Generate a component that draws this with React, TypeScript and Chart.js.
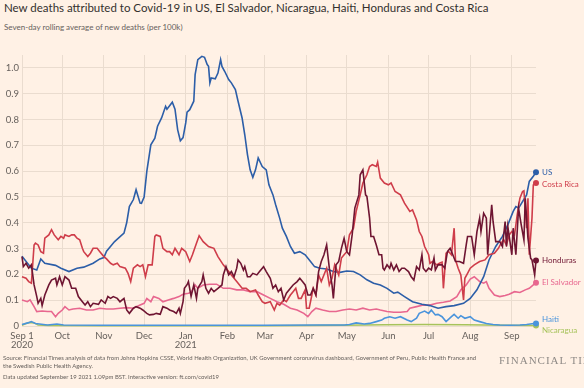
import React, { useEffect, useRef } from "react";
import { Chart, registerables } from "chart.js";

Chart.register(...registerables);

// ---- Axis ticks (days since 1 Sep 2020) ----
const monthTickDays = [0, 30, 61, 91, 122, 153, 181, 212, 242, 273, 303, 334, 365];
const monthTickLabels: (string | string[])[] = [
  ["Sep 1", "2020"], "Oct", "Nov", "Dec", ["Jan", "2021"], "Feb", "Mar", "Apr", "May", "Jun", "Jul", "Aug", "Sep",
];
const yTickValues = [0, 0.1, 0.2, 0.3, 0.4, 0.5, 0.6, 0.7, 0.8, 0.9, 1.0];
const yTickLabels = ["0", "0.1", "0.2", "0.3", "0.4", "0.5", "0.6", "0.7", "0.8", "0.9", "1.0"];
const lastDay = 383;

// ---- Series (day index, deaths per 100k, 7-day avg) ----
const usDays = [0, 7, 11, 14, 17, 25, 29, 35, 41, 46, 53, 58, 61, 63, 69, 76, 78, 80, 83, 85, 88, 89, 91, 93, 96, 99, 101, 104, 107, 108, 112, 114, 116, 118, 120, 122, 123, 125, 128, 129, 131, 134, 136, 138, 139, 140, 141, 144, 146, 148, 149, 151, 154, 156, 159, 161, 164, 166, 168, 170, 172, 174, 176, 179, 182, 184, 187, 189, 192, 194, 197, 200, 203, 207, 211, 215, 218, 222, 227, 232, 237, 242, 247, 252, 257, 262, 267, 272, 277, 280, 285, 291, 298, 304, 310, 316, 322, 329, 334, 339, 344, 348, 353, 358, 362, 366, 368, 370, 376, 378, 381, 383];
const usValues = [0.27, 0.224, 0.217, 0.26, 0.243, 0.235, 0.224, 0.211, 0.224, 0.228, 0.243, 0.26, 0.265, 0.29, 0.327, 0.36, 0.4, 0.463, 0.49, 0.528, 0.476, 0.475, 0.5, 0.599, 0.702, 0.728, 0.774, 0.806, 0.851, 0.84, 0.867, 0.84, 0.76, 0.718, 0.73, 0.787, 0.829, 0.838, 0.871, 0.974, 1.032, 1.045, 1.041, 1.013, 1.006, 0.942, 0.961, 0.958, 0.98, 1.032, 1.006, 0.987, 0.955, 0.942, 0.916, 0.871, 0.806, 0.741, 0.664, 0.605, 0.576, 0.605, 0.651, 0.618, 0.605, 0.547, 0.508, 0.47, 0.418, 0.379, 0.347, 0.308, 0.282, 0.288, 0.276, 0.25, 0.23, 0.224, 0.221, 0.211, 0.208, 0.213, 0.211, 0.198, 0.179, 0.166, 0.159, 0.146, 0.127, 0.131, 0.114, 0.094, 0.084, 0.079, 0.069, 0.075, 0.079, 0.088, 0.107, 0.14, 0.191, 0.256, 0.308, 0.347, 0.392, 0.444, 0.463, 0.457, 0.508, 0.56, 0.58, 0.596];

const costaRicaDays = [0, 3, 5, 7, 9, 10, 12, 14, 16, 17, 20, 22, 24, 27, 29, 31, 32, 35, 37, 39, 41, 43, 45, 46, 49, 51, 53, 56, 58, 61, 63, 66, 68, 71, 73, 77, 79, 81, 83, 86, 88, 90, 92, 94, 97, 99, 100, 103, 105, 108, 110, 112, 114, 117, 119, 122, 125, 127, 130, 132, 135, 139, 143, 146, 150, 154, 156, 160, 164, 167, 170, 174, 176, 179, 181, 185, 188, 190, 192, 195, 197, 200, 202, 204, 206, 208, 211, 212, 214, 217, 219, 221, 223, 226, 227, 229, 231, 233, 236, 238, 240, 242, 244, 247, 249, 252, 254, 257, 259, 261, 264, 265, 267, 270, 273, 275, 278, 282, 285, 289, 291, 294, 296, 298, 300, 303, 304, 306, 309, 311, 313, 314, 316, 318, 320, 322, 323, 325, 327, 329, 330, 332, 334, 337, 341, 345, 348, 352, 355, 357, 359, 361, 363, 365, 367, 369, 371, 373, 374, 376, 377, 378, 380, 381, 383];
const costaRicaValues = [0.191, 0.185, 0.172, 0.166, 0.314, 0.321, 0.314, 0.288, 0.282, 0.34, 0.353, 0.373, 0.353, 0.334, 0.347, 0.34, 0.353, 0.347, 0.353, 0.353, 0.34, 0.334, 0.301, 0.288, 0.269, 0.282, 0.301, 0.301, 0.288, 0.269, 0.26, 0.243, 0.237, 0.243, 0.23, 0.224, 0.204, 0.172, 0.224, 0.237, 0.23, 0.237, 0.191, 0.237, 0.237, 0.347, 0.353, 0.347, 0.301, 0.288, 0.288, 0.276, 0.301, 0.276, 0.301, 0.288, 0.25, 0.276, 0.321, 0.35, 0.327, 0.308, 0.301, 0.269, 0.237, 0.211, 0.198, 0.172, 0.146, 0.146, 0.133, 0.14, 0.12, 0.094, 0.088, 0.094, 0.062, 0.088, 0.081, 0.101, 0.094, 0.12, 0.133, 0.146, 0.107, 0.107, 0.14, 0.069, 0.069, 0.146, 0.12, 0.198, 0.172, 0.211, 0.224, 0.159, 0.185, 0.237, 0.198, 0.263, 0.276, 0.288, 0.353, 0.379, 0.444, 0.508, 0.554, 0.586, 0.618, 0.625, 0.618, 0.635, 0.573, 0.554, 0.547, 0.554, 0.521, 0.508, 0.476, 0.444, 0.45, 0.411, 0.366, 0.347, 0.308, 0.276, 0.243, 0.25, 0.237, 0.243, 0.247, 0.146, 0.282, 0.288, 0.276, 0.379, 0.256, 0.224, 0.198, 0.101, 0.185, 0.204, 0.224, 0.237, 0.25, 0.256, 0.276, 0.282, 0.301, 0.321, 0.334, 0.314, 0.353, 0.366, 0.353, 0.431, 0.495, 0.521, 0.524, 0.379, 0.495, 0.276, 0.418, 0.547, 0.554];

const hondurasDays = [0, 1, 3, 5, 7, 9, 11, 12, 14, 15, 17, 20, 22, 25, 26, 28, 30, 32, 35, 37, 40, 42, 45, 47, 49, 51, 53, 57, 59, 62, 64, 66, 68, 71, 73, 76, 78, 80, 83, 85, 88, 90, 93, 95, 98, 100, 103, 105, 108, 110, 113, 115, 117, 118, 120, 121, 123, 124, 126, 128, 130, 131, 134, 135, 137, 139, 141, 143, 146, 149, 150, 152, 154, 156, 158, 160, 161, 163, 165, 166, 168, 170, 172, 175, 177, 180, 182, 185, 187, 189, 191, 193, 195, 197, 200, 202, 205, 207, 209, 211, 213, 215, 217, 219, 221, 223, 225, 227, 229, 231, 232, 234, 236, 238, 240, 242, 244, 246, 248, 251, 252, 254, 256, 257, 259, 260, 262, 264, 266, 268, 269, 270, 272, 274, 275, 277, 279, 281, 283, 285, 288, 290, 292, 294, 296, 298, 299, 301, 303, 305, 307, 308, 310, 313, 315, 317, 319, 321, 323, 326, 329, 331, 332, 335, 337, 339, 341, 342, 344, 346, 347, 350, 351, 353, 356, 358, 360, 361, 362, 365, 366, 368, 370, 372, 374, 375, 377, 379, 380, 382, 383];
const hondurasValues = [0.269, 0.23, 0.243, 0.224, 0.237, 0.159, 0.114, 0.088, 0.107, 0.079, 0.12, 0.159, 0.178, 0.185, 0.159, 0.191, 0.159, 0.191, 0.178, 0.146, 0.146, 0.114, 0.094, 0.081, 0.094, 0.075, 0.088, 0.084, 0.101, 0.088, 0.114, 0.107, 0.114, 0.107, 0.094, 0.107, 0.062, 0.049, 0.069, 0.075, 0.069, 0.062, 0.049, 0.043, 0.045, 0.049, 0.045, 0.075, 0.069, 0.062, 0.056, 0.049, 0.069, 0.049, 0.094, 0.146, 0.16, 0.172, 0.115, 0.159, 0.107, 0.146, 0.172, 0.198, 0.146, 0.127, 0.146, 0.133, 0.146, 0.159, 0.198, 0.23, 0.198, 0.211, 0.191, 0.224, 0.256, 0.243, 0.217, 0.23, 0.191, 0.191, 0.204, 0.198, 0.211, 0.23, 0.211, 0.185, 0.146, 0.159, 0.133, 0.146, 0.101, 0.127, 0.146, 0.159, 0.172, 0.185, 0.172, 0.159, 0.12, 0.12, 0.146, 0.12, 0.211, 0.25, 0.276, 0.314, 0.224, 0.159, 0.107, 0.237, 0.25, 0.301, 0.34, 0.288, 0.276, 0.353, 0.457, 0.508, 0.586, 0.605, 0.508, 0.502, 0.418, 0.347, 0.347, 0.314, 0.276, 0.276, 0.224, 0.217, 0.237, 0.224, 0.243, 0.217, 0.237, 0.211, 0.224, 0.224, 0.211, 0.191, 0.178, 0.23, 0.217, 0.276, 0.224, 0.211, 0.224, 0.217, 0.263, 0.217, 0.237, 0.237, 0.224, 0.288, 0.301, 0.276, 0.25, 0.25, 0.243, 0.314, 0.347, 0.347, 0.276, 0.366, 0.418, 0.366, 0.437, 0.418, 0.276, 0.47, 0.405, 0.327, 0.327, 0.308, 0.405, 0.308, 0.386, 0.276, 0.379, 0.276, 0.457, 0.392, 0.334, 0.495, 0.34, 0.263, 0.256, 0.198, 0.254];

const elSalvadorDays = [0, 4, 6, 9, 11, 15, 19, 22, 25, 27, 30, 32, 35, 38, 43, 48, 53, 58, 63, 68, 73, 78, 83, 88, 91, 93, 96, 98, 102, 105, 109, 113, 117, 120, 124, 126, 129, 131, 135, 140, 145, 150, 155, 160, 165, 170, 175, 180, 185, 190, 195, 200, 205, 210, 213, 216, 219, 224, 229, 234, 239, 244, 249, 254, 259, 264, 267, 272, 277, 282, 287, 289, 294, 299, 304, 309, 314, 319, 324, 327, 331, 334, 337, 339, 341, 344, 346, 348, 352, 356, 360, 363, 367, 371, 375, 378, 381, 383];
const elSalvadorValues = [0.101, 0.094, 0.101, 0.075, 0.056, 0.058, 0.056, 0.056, 0.036, 0.049, 0.062, 0.075, 0.062, 0.066, 0.069, 0.062, 0.062, 0.069, 0.066, 0.066, 0.069, 0.071, 0.069, 0.081, 0.088, 0.107, 0.094, 0.114, 0.107, 0.094, 0.101, 0.107, 0.114, 0.123, 0.127, 0.13, 0.159, 0.146, 0.159, 0.162, 0.162, 0.146, 0.146, 0.14, 0.14, 0.133, 0.133, 0.12, 0.107, 0.094, 0.084, 0.069, 0.062, 0.049, 0.036, 0.056, 0.069, 0.062, 0.056, 0.056, 0.062, 0.066, 0.062, 0.069, 0.062, 0.066, 0.062, 0.056, 0.053, 0.053, 0.056, 0.069, 0.075, 0.081, 0.081, 0.088, 0.092, 0.097, 0.114, 0.14, 0.159, 0.182, 0.191, 0.182, 0.172, 0.166, 0.172, 0.146, 0.12, 0.114, 0.118, 0.123, 0.133, 0.13, 0.14, 0.146, 0.159, 0.168];

const haitiDays = [0, 5, 7, 10, 19, 26, 31, 60, 120, 180, 220, 240, 244, 249, 255, 259, 264, 268, 270, 274, 278, 282, 287, 290, 294, 296, 300, 303, 305, 308, 310, 313, 316, 320, 322, 325, 327, 330, 334, 337, 341, 346, 351, 356, 363, 371, 376, 380, 383];
const haitiValues = [0.006, 0.013, 0.017, 0.01, 0.004, 0.008, 0.004, 0.003, 0.003, 0.003, 0.004, 0.004, 0.006, 0.012, 0.008, 0.01, 0.017, 0.023, 0.03, 0.036, 0.03, 0.036, 0.023, 0.017, 0.03, 0.049, 0.058, 0.049, 0.062, 0.043, 0.045, 0.036, 0.017, 0.036, 0.045, 0.03, 0.04, 0.03, 0.036, 0.023, 0.017, 0.01, 0.006, 0.004, 0.003, 0.004, 0.006, 0.009, 0.01];

const nicaraguaDays = [0, 3, 6, 9, 12, 20, 60, 120, 180, 240, 270, 300, 330, 360, 383];
const nicaraguaValues = [0.003, 0.01, 0.014, 0.012, 0.004, 0.002, 0.001, 0.001, 0.001, 0.003, 0.005, 0.006, 0.005, 0.003, 0.002];

// ---- Styling ----
const seriesList = [
  { name: "Honduras", days: hondurasDays, values: hondurasValues, color: "#6f1532" },
  { name: "Costa Rica", days: costaRicaDays, values: costaRicaValues, color: "#cf3d4a" },
  { name: "US", days: usDays, values: usValues, color: "#2c5ea8" },
  { name: "El Salvador", days: elSalvadorDays, values: elSalvadorValues, color: "#e8678f" },
  { name: "Haiti", days: haitiDays, values: haitiValues, color: "#4a94dc" },
  { name: "Nicaragua", days: nicaraguaDays, values: nicaraguaValues, color: "#a7c35b" },
];
const labelNudge: Record<string, number> = { US: 0, "Costa Rica": 1, Honduras: 0, "El Salvador": 0, Haiti: -4, Nicaragua: 5 };

const FONT = "Lato, 'Noto Sans', sans-serif";
const GREY = "#66605c";
const GRID = "#eadccf";
const BG = "#fff1e5";

const endLabelsPlugin = {
  id: "endLabels",
  afterDatasetsDraw(chart: any) {
    const ctx = chart.ctx;
    chart.data.datasets.forEach((ds: any, i: number) => {
      const meta = chart.getDatasetMeta(i);
      const pt = meta.data[meta.data.length - 1];
      if (!pt) return;
      ctx.save();
      ctx.font = `8px ${FONT}`;
      ctx.fillStyle = ds.borderColor;
      ctx.textAlign = "left";
      ctx.textBaseline = "middle";
      ctx.fillText(ds.label, pt.x + 6, pt.y + (labelNudge[ds.label] || 0));
      ctx.restore();
    });
  },
};

export default function App() {
  const canvasRef = useRef<HTMLCanvasElement | null>(null);

  useEffect(() => {
    if (!canvasRef.current) return;
    const datasets = seriesList.map((s) => ({
      label: s.name,
      data: s.days.map((d, i) => ({ x: d, y: s.values[i] })),
      borderColor: s.color,
      backgroundColor: s.color,
      borderWidth: 1.6,
      tension: 0,
      clip: false as any,
      pointRadius: s.days.map((_, i) => (i === s.days.length - 1 ? 3 : 0)),
      pointHoverRadius: 0,
      pointBorderWidth: 0,
      pointBackgroundColor: s.color,
    }));

    const chart = new Chart(canvasRef.current, {
      type: "line",
      data: { datasets },
      options: {
        animation: false,
        responsive: false,
        maintainAspectRatio: false,
        layout: { padding: { left: 0, right: 48, top: 55, bottom: 0 } },
        plugins: { legend: { display: false }, tooltip: { enabled: false }, title: { display: false } },
        scales: {
          x: {
            type: "linear",
            min: 0,
            max: lastDay,
            afterBuildTicks: (scale: any) => {
              scale.ticks = monthTickDays.map((v) => ({ value: v }));
            },
            afterFit: (scale: any) => {
              scale.height = 62;
            },
            ticks: {
              autoSkip: false,
              maxRotation: 0,
              padding: 5,
              color: GREY,
              font: { family: FONT, size: 9.5, lineHeight: 1.0 },
              callback: (v: any) => {
                const idx = monthTickDays.indexOf(Number(v));
                return idx >= 0 ? monthTickLabels[idx] : "";
              },
            },
            grid: { color: GRID, lineWidth: 1, drawTicks: false },
            border: { display: false },
          },
          y: {
            type: "linear",
            min: 0,
            max: 1.05,
            afterBuildTicks: (scale: any) => {
              scale.ticks = yTickValues.map((v) => ({ value: v }));
            },
            afterFit: (scale: any) => {
              scale.width = 22;
            },
            ticks: {
              padding: 3,
              color: GREY,
              font: { family: FONT, size: 9.5 },
              callback: (v: any) => {
                const idx = yTickValues.findIndex((t) => Math.abs(t - Number(v)) < 1e-6);
                return idx >= 0 ? yTickLabels[idx] : "";
              },
            },
            grid: { color: GRID, lineWidth: 1, drawTicks: false },
            border: { display: false },
          },
        },
      },
      plugins: [endLabelsPlugin],
    });
    return () => chart.destroy();
  }, []);

  return (
    <div
      style={{
        position: "absolute",
        left: 0,
        top: 0,
        width: 584,
        height: 388,
        background: BG,
        overflow: "hidden",
        fontFamily: FONT,
      }}
    >
      <div style={{ position: "absolute", left: 4, top: 1, fontSize: 11.5, lineHeight: "14px", color: "#33302e", whiteSpace: "nowrap" }}>
        New deaths attributed to Covid-19 in US, El Salvador, Nicaragua, Haiti, Honduras and Costa Rica
      </div>
      <div style={{ position: "absolute", left: 4, top: 22, fontSize: 8, lineHeight: "10px", color: GREY, whiteSpace: "nowrap" }}>
        Seven-day rolling average of new deaths (per 100k)
      </div>
      <canvas ref={canvasRef} width={584} height={388} style={{ position: "absolute", left: 0, top: 0, width: 584, height: 388 }} />
      <div
        style={{
          position: "absolute",
          left: 3,
          top: 354,
          fontSize: 11.9,
          lineHeight: "15px",
          color: GREY,
          whiteSpace: "nowrap",
          transform: "scale(0.5)",
          transformOrigin: "0 0",
        }}
      >
        <div>Source: Financial Times analysis of data from Johns Hopkins CSSE, World Health Organization, UK Government coronavirus dashboard, Government of Peru, Public Health France and</div>
        <div>the Swedish Public Health Agency.</div>
        <div style={{ marginTop: 8 }}>Data updated September 19 2021 1.09pm BST. Interactive version: ft.com/covid19</div>
      </div>
      <div
        style={{
          position: "absolute",
          left: 499,
          top: 355,
          fontFamily: "'Liberation Serif', 'DejaVu Serif', serif",
          fontSize: 11,
          lineHeight: "11px",
          letterSpacing: 1,
          color: "#8f8a86",
          whiteSpace: "nowrap",
        }}
      >
        FINANCIAL TIMES
      </div>
    </div>
  );
}
